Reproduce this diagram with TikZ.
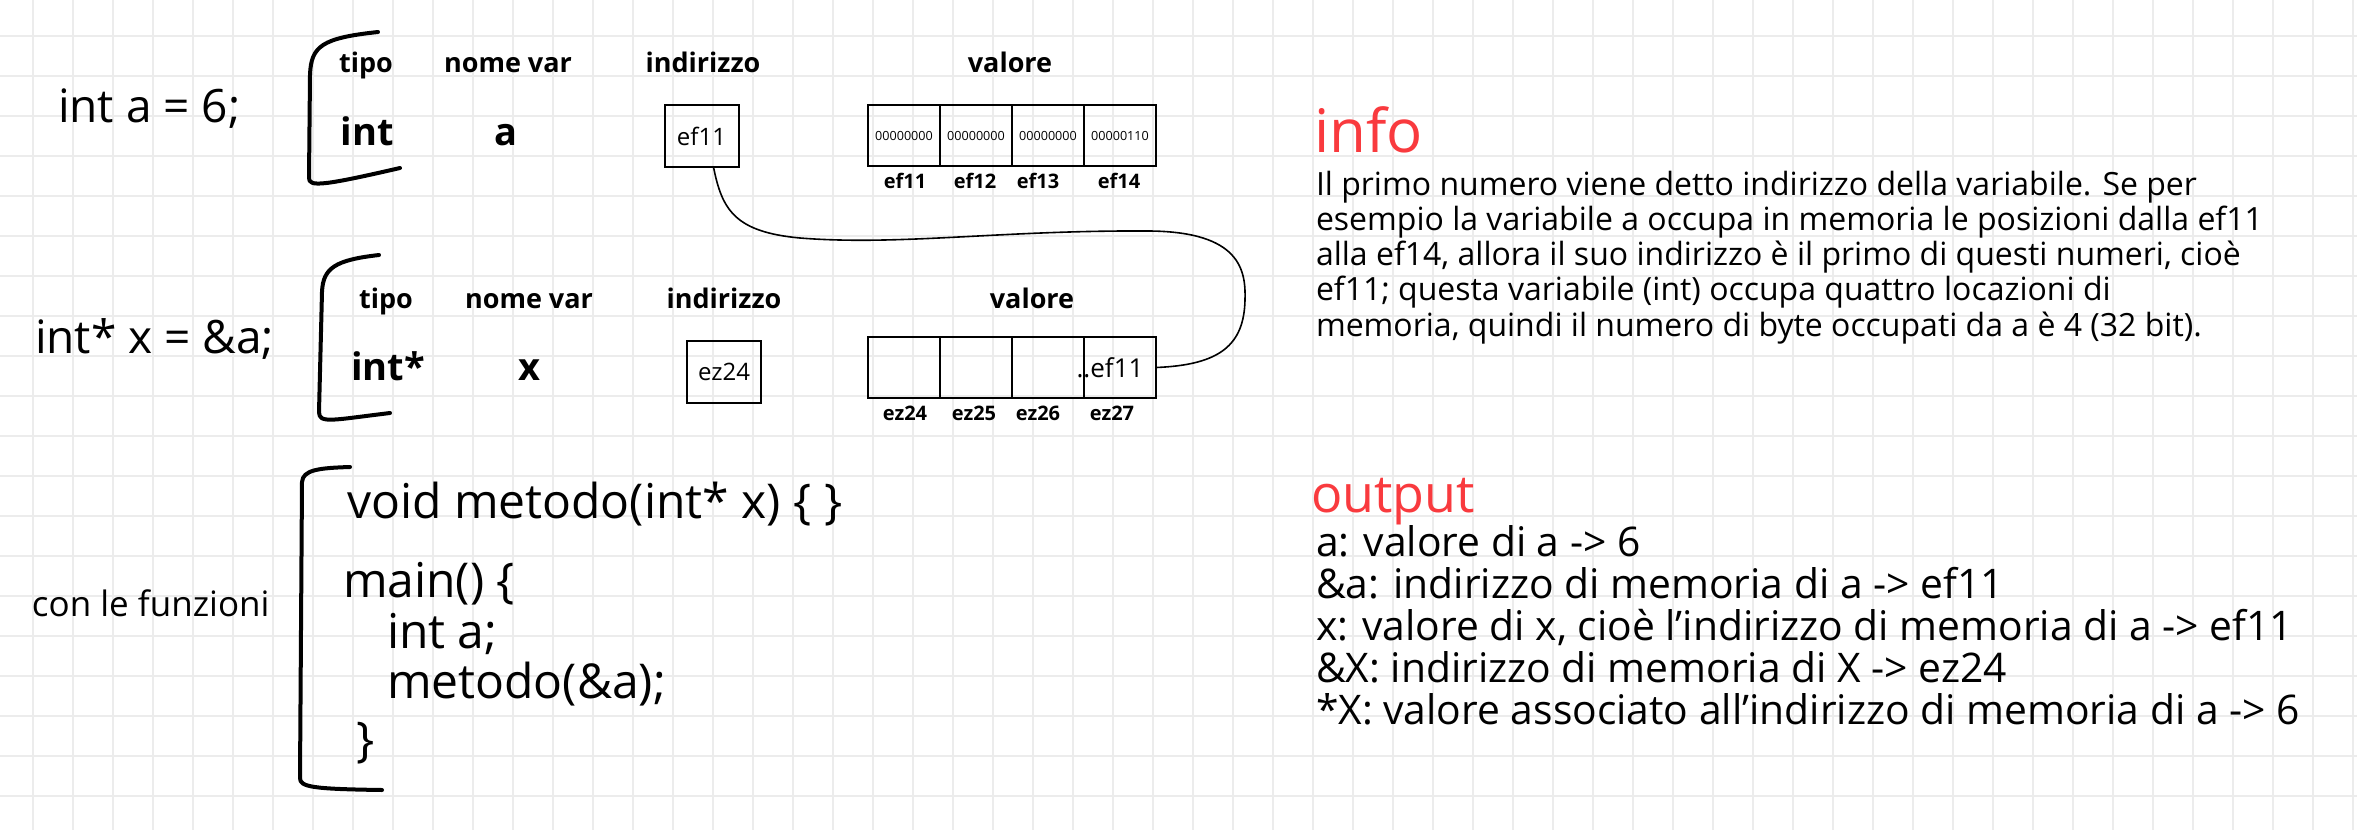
\documentclass[tikz,border=0pt]{standalone}
\usepackage{fontspec}
\setmainfont{Open Sans}
\newcommand\hsz[1]{\fontsize{#1}{#1}\selectfont}
\definecolor{gridc}{HTML}{ECECEC}
\definecolor{redc}{HTML}{F93A3E}
\tikzset{
  gridline/.style={gridc, line width=1pt},
  lbl/.style={inner sep=0pt, outer sep=0pt, anchor=base west},
  hd/.style={inner sep=0pt, outer sep=0pt, anchor=base, font=\bfseries\hsz{13.5}},
  bigbold/.style={inner sep=0pt, outer sep=0pt, anchor=base, font=\bfseries\hsz{19}},
  addrlbl/.style={inner sep=0pt, outer sep=0pt, anchor=base, font=\bfseries\hsz{10}},
  cellbox/.style={draw, line width=1.4pt, minimum width=36pt, minimum height=30.5pt, inner sep=0pt, outer sep=0pt, font=\hsz{6.3}},
  addrbox/.style={draw, line width=1pt, minimum width=37pt, minimum height=31pt, inner sep=0pt, outer sep=0pt, font=\hsz{12}},
  brk/.style={line width=2pt, line cap=round, line join=round},
  conn/.style={line width=0.8pt},
  codetxt/.style={lbl, font=\hsz{24}},
  decl/.style={lbl, font=\hsz{23}},
  infotxt/.style={lbl, font=\hsz{16}},
  outtxt/.style={lbl, font=\hsz{20.4}},
  title/.style={lbl, text=redc},
}
\begin{document}
\begin{tikzpicture}[x=0.5pt,y=-0.5pt]
\useasboundingbox (0,0) rectangle (2357,830);
\fill[white] (0,0) rectangle (2357,830);
\foreach \gx in {33,73,...,2353} \draw[gridline] (\gx,0) -- (\gx,830);
\foreach \gy in {36,76,...,796} \draw[gridline] (0,\gy) -- (2357,\gy);

% ---------- row 1: int a = 6;
\node[decl] (decla) at (58,122) {int a = 6;};
\draw[brk] (378,32) .. controls (322,38) and (311,46) .. (310,75) -- (309,178) .. controls (309,187) and (322,186) .. (400,168);
\node[hd] (tipoa) at (366,72) {tipo};
\node[hd] (nomea) at (508,72) {nome var};
\node[hd] (indira) at (703,72) {indirizzo};
\node[hd] (valorea) at (1010,72) {valore};
\node[bigbold] (inta) at (367,145) {int};
\node[bigbold] (vara) at (506,145) {a};
\node[addrbox] (efbox) at (701.5,136) {ef11};
\node[cellbox] (c11) at (904,135.5) {00000000};
\node[cellbox] (c12) at (976,135.5) {00000000};
\node[cellbox] (c13) at (1048,135.5) {00000000};
\node[cellbox] (c14) at (1120,135.5) {00000110};
\node[addrlbl] (l11) at (905,188) {ef11};
\node[addrlbl] (l12) at (975,188) {ef12};
\node[addrlbl] (l13) at (1038,188) {ef13};
\node[addrlbl] (l14) at (1119,188) {ef14};

% ---------- row 2: int* x = &a;
\node[decl] (declx) at (35,353) {int* x = \&a;};
\draw[brk] (379,255) .. controls (335,260) and (323,268) .. (322,292) -- (319,412) .. controls (319,424) and (332,420) .. (390,413);
\node[hd] (tipox) at (386,308) {tipo};
\node[hd] (nomex) at (529,308) {nome var};
\node[hd] (indirx) at (724,308) {indirizzo};
\node[hd] (valorex) at (1032,308) {valore};
\node[bigbold] (intx) at (388,380) {int*};
\node[bigbold] (varx) at (529,380) {x};
\node[addrbox] (ezbox) at (724,372) {ez24};
\node[cellbox] (c21) at (904,367.5) {};
\node[cellbox] (c22) at (976,367.5) {};
\node[cellbox] (c23) at (1048,367.5) {};
\node[cellbox] (c24) at (1120,367.5) {};
\node[inner sep=0pt, font=\hsz{13}, anchor=base] (ptrval) at (1110,377) {..ef11};
\node[addrlbl] (l21) at (905,420) {ez24};
\node[addrlbl] (l22) at (974,420) {ez25};
\node[addrlbl] (l23) at (1038,420) {ez26};
\node[addrlbl] (l24) at (1112,420) {ez27};

% connector ef11 -> cell ez27
\draw[conn] ([xshift=6pt]efbox.south) .. controls (722,210) and (735,232) .. (800,238)
  .. controls (900,246) and (1000,230) .. (1150,231)
  .. controls (1240,232) and (1246,270) .. (1245,300)
  .. controls (1244,345) and (1220,365) .. (c24.east);

% ---------- row 3: functions
\node[lbl, font=\hsz{17.5}] (funz) at (32,616) {con le funzioni};
\draw[brk] (350,467) .. controls (318,468) and (303,470) .. (302,482) -- (300,778) .. controls (300,787) and (312,789) .. (382,790);
\node[codetxt] (code1) at (347,518) {void metodo(int* x) \{ \}};
\node[codetxt] (code2) at (343,597) {main() \{};
\node[codetxt] (code3) at (387,648) {int a;};
\node[codetxt] (code4) at (387,698) {metodo(\&a);};
\node[inner sep=0pt, font=\hsz{24}] (code5) at (366,743) {\}};

% ---------- info
\node[title, font=\hsz{30}] (info) at (1314,152) {info};
\node[infotxt] (i1) at (1316,195) {Il primo numero viene detto indirizzo della variabile. Se per};
\node[infotxt] (i2) at (1316,230) {esempio la variabile a occupa in memoria le posizioni dalla ef11};
\node[infotxt] (i3) at (1316,265) {alla ef14, allora il suo indirizzo è il primo di questi numeri, cioè};
\node[infotxt] (i4) at (1316,300) {ef11; questa variabile (int) occupa quattro locazioni di};
\node[infotxt] (i5) at (1316,336) {memoria, quindi il numero di byte occupati da a è 4 (32 bit).};

% ---------- output
\node[title, font=\hsz{26}] (outp) at (1311,512) {output};
\node[outtxt] (o1) at (1316,556) {a: valore di a -> 6};
\node[outtxt] (o2) at (1316,598) {\&a: indirizzo di memoria di a -> ef11};
\node[outtxt] (o3) at (1316,640) {x: valore di x, cioè l’indirizzo di memoria di a -> ef11};
\node[outtxt] (o4) at (1316,682) {\&X: indirizzo di memoria di X -> ez24};
\node[outtxt] (o5) at (1316,724) {*X: valore associato all’indirizzo di memoria di a -> 6};
\end{tikzpicture}
\end{document}
